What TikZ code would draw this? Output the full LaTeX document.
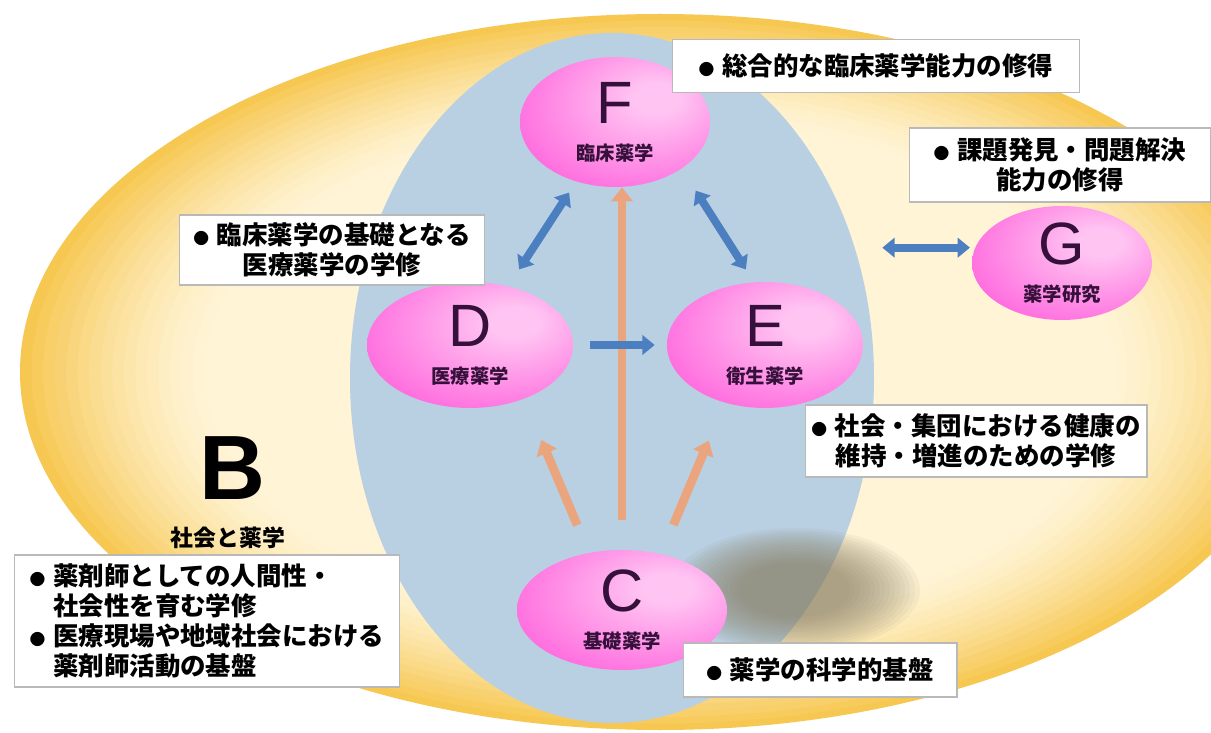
\documentclass[tikz,border=0pt]{standalone}
\usepackage{fontspec}
\newfontfamily\jp{Noto Sans CJK JP}
\newfontfamily\lat{Liberation Sans}
\usetikzlibrary{shapes.geometric,arrows.meta}

\definecolor{yelDeep}{HTML}{F5C242}
\definecolor{yelLight}{HTML}{FFF4D6}
\definecolor{eggBlue}{HTML}{B9CFE2}
\definecolor{pinkDeep}{HTML}{FF6CDE}
\definecolor{pinkLight}{HTML}{FFC4F2}
\definecolor{letterPurple}{HTML}{35103A}
\definecolor{arrowBlue}{HTML}{4C7FC0}
\definecolor{arrowOrange}{HTML}{EBA57E}
\definecolor{shadowGray}{HTML}{8A7F62}

\pgfdeclareradialshading{pinkball}{\pgfpoint{12bp}{10bp}}{color(0bp)=(pinkLight); color(6bp)=(pinkLight); color(34bp)=(pinkDeep); color(70bp)=(pinkDeep)}

\newcommand{\corelabel}[2]{{\lat\fontsize{34}{34}\selectfont #1}\\[9pt]{\jp\bfseries\fontsize{11}{13}\selectfont #2}}
\newcommand{\dotmark}{{\fontsize{9}{10}\selectfont ●}\hspace{0.3em}}

\tikzset{
  core/.style={ellipse, shade, shading=pinkball, inner sep=0pt, align=center, text=letterPurple},
  infobox/.style={draw=gray!55, fill=white, line width=0.6pt, inner sep=3pt, align=center,
    font=\jp\bfseries\fontsize{14.5}{17}\selectfont},
  bluepair/.style={draw=arrowBlue, line width=4.5pt, {Triangle[length=7pt,width=11pt]}-{Triangle[length=7pt,width=11pt]}},
  bluearrow/.style={draw=arrowBlue, line width=4.5pt, -{Triangle[length=7pt,width=11pt]}},
  orangearrow/.style={draw=arrowOrange, line width=5pt, -{Triangle[length=8pt,width=12pt]}}
}

\begin{document}
\begin{tikzpicture}[x=0.02cm, y=-0.02cm]
\useasboundingbox (0,0) rectangle (1211,733);
\fill[white] (0,0) rectangle (1211,733);
\foreach \k in {0,...,16}{
  \pgfmathsetmacro\s{1-0.018*\k}
  \pgfmathsetmacro\m{90*(1-\k/16)^1.4}
  \fill[yelDeep!\m!yelLight] (660,372) ellipse [x radius=640*\s, y radius=358*\s];
}
\fill[eggBlue] (612,378) ellipse [x radius=262, y radius=345];
\foreach \k in {0,...,14}
  \fill[shadowGray, opacity=0.07] (795,590) ellipse [x radius=125-5*\k, y radius=62-2.5*\k];

\node[core, minimum width=3.8cm, minimum height=2.6cm] (F) at (615,122) {\corelabel{F}{臨床薬学}};
\node[core, minimum width=4.12cm, minimum height=2.52cm] (D) at (470,345) {\corelabel{D}{医療薬学}};
\node[core, minimum width=3.92cm, minimum height=2.52cm] (E) at (765,345) {\corelabel{E}{衛生薬学}};
\node[core, minimum width=3.6cm, minimum height=2.28cm] (G) at (1062,263) {\corelabel{G}{薬学研究}};
\node[core, minimum width=4.2cm, minimum height=2.4cm] (C) at (622,610) {\corelabel{C}{基礎薬学}};

\node (Bmark) at (232,468) {\lat\bfseries\fontsize{52}{52}\selectfont B};
\node[font=\jp\bfseries\fontsize{13}{15}\selectfont] (Blabel) at (228,538) {社会と薬学};

\node[infobox, minimum width=8.14cm, minimum height=1.06cm] (Fnote) at (876,66) {\dotmark 総合的な臨床薬学能力の修得};
\node[infobox, minimum width=6.02cm, minimum height=1.48cm] (Gnote) at (1060,165) {\dotmark 課題発見・問題解決\\能力の修得};
\node[infobox, minimum width=6.1cm, minimum height=1.4cm] (Dnote) at (332,250) {\dotmark 臨床薬学の基礎となる\\医療薬学の学修};
\node[infobox, minimum width=6.84cm, minimum height=1.44cm] (Enote) at (976,441) {\dotmark 社会・集団における健康の\\維持・増進のための学修};
\node[infobox, minimum width=7.7cm, minimum height=2.64cm, align=left] (Bnote) at (207,621)
  {\dotmark 薬剤師としての人間性・\\\phantom{\dotmark}社会性を育む学修\\\dotmark 医療現場や地域社会における\\\phantom{\dotmark}薬剤師活動の基盤};
\node[infobox, minimum width=5.48cm, minimum height=1.08cm] (Cnote) at (820,670) {\dotmark 薬学の科学的基盤};

\draw[orangearrow, shorten <=0.6cm] (C.north) -- (C.north |- F.south);
\draw[orangearrow, shorten <=0.6cm, shorten >=0.89cm] (C.120) -- (D.-45);
\draw[orangearrow, shorten <=0.63cm, shorten >=0.82cm] (C.55) -- (E.-125);

\draw[bluepair, shorten <=0.4cm, shorten >=0.26cm] (D) -- (F);
\draw[bluepair, shorten <=0.52cm, shorten >=0.3cm] (F.-35) -- (E.100);
\draw[bluearrow, shorten <=0.34cm, shorten >=0.24cm] (D) -- (E);
\draw[bluepair, shorten <=0.38cm, shorten >=0.1cm] (E.east |- G.170) -- (G.170);
\end{tikzpicture}
\end{document}
